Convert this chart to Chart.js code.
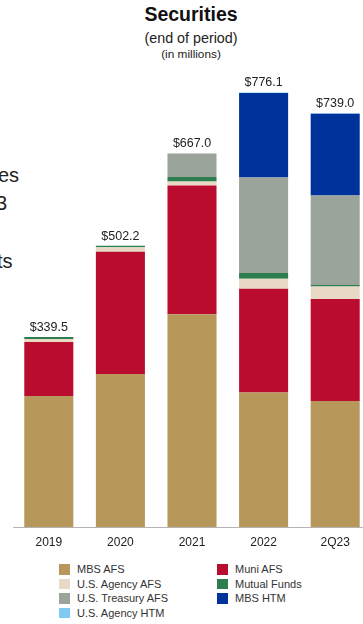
<!DOCTYPE html>
<html>
<head>
<meta charset="utf-8">
<script src="https://cdn.jsdelivr.net/npm/chart.js@4"></script>
<style>
  html, body { margin: 0; padding: 0; background: #fff; }
  body { width: 363px; height: 624px; overflow: hidden; position: relative;
         font-family: "Liberation Sans", Arial, sans-serif; color: #222; }
  .t { position: absolute; white-space: nowrap; }
  #title { left: 0; width: 382px; top: 3px; text-align: center; font-size: 19.5px; font-weight: bold; color: #111; }
  #sub1 { left: 0; width: 382px; top: 30px; text-align: center; font-size: 14.3px; }
  #sub2 { left: 0; width: 382px; top: 47px; text-align: center; font-size: 11.8px; }
  .frag { font-size: 20px; color: #222; }
  #chart { position: absolute; left: 0; top: 0; }
  .leg { position: absolute; font-size: 11px; color: #333; }
  .leg div { height: 14.6px; line-height: 14.6px; position: relative; padding-left: 18px; }
  .leg span { position: absolute; left: 0; top: 2px; width: 10.5px; height: 10.5px; }
</style>
</head>
<body>
<div class="t" id="title">Securities</div>
<div class="t" id="sub1">(end of period)</div>
<div class="t" id="sub2">(in millions)</div>

<!-- bits of the neighbouring text block -->
<div class="t frag" style="left:-2px; top:164px;">es</div>
<div class="t frag" style="left:-4px; top:192px;">3</div>
<div class="t frag" style="left:-3px; top:250px;">ts</div>

<canvas id="chart" width="371" height="560"></canvas>
<div class="leg" id="leg1" style="left:59px; top:562px;"></div>
<div class="leg" id="leg2" style="left:217px; top:562px;"></div>

<script>
const categories = ["2019", "2020", "2021", "2022", "2Q23"];

// balances in millions, bottom of the stack first
const mbsAfs      = [234.0, 273.3, 380.0, 240.0, 225.1];
const muniAfs     = [96.5, 218.0, 229.8, 185.3, 182.2];
const agencyAfs   = [5.4, 8.4, 7.1, 17.9, 22.0];
const mutualFunds = [3.6, 2.5, 7.9, 10.2, 3.0];
const treasuryAfs = [0, 0, 42.2, 170.8, 159.5];
const mbsHtm      = [0, 0, 0, 150.9, 146.2];
const agencyHtm   = [0, 0, 0, 1.0, 1.0];

const series = [
  { label: "MBS AFS", data: mbsAfs, color: "#b8975a" },
  { label: "Muni AFS", data: muniAfs, color: "#ba0c2f" },
  { label: "U.S. Agency AFS", data: agencyAfs, color: "#e8d9c4" },
  { label: "Mutual Funds", data: mutualFunds, color: "#2e7d4f" },
  { label: "U.S. Treasury AFS", data: treasuryAfs, color: "#9aa49b" },
  { label: "MBS HTM", data: mbsHtm, color: "#00329b" },
  { label: "U.S. Agency HTM", data: agencyHtm, color: "#7fc9f5" }
];

// legend columns as laid out on the slide
const legendCols = [
  ["MBS AFS", "U.S. Agency AFS", "U.S. Treasury AFS", "U.S. Agency HTM"],
  ["Muni AFS", "Mutual Funds", "MBS HTM"]
];

// total label above each stack
const totalLabels = {
  id: "totalLabels",
  afterDatasetsDraw(chart) {
    const ctx = chart.ctx;
    const x = chart.scales.x;
    const y = chart.scales.y;
    ctx.save();
    ctx.font = "12.5px 'Liberation Sans', Arial, sans-serif";
    ctx.fillStyle = "#222";
    ctx.textAlign = "center";
    ctx.textBaseline = "alphabetic";
    categories.forEach((c, i) => {
      let sum = 0;
      series.forEach((s) => (sum += s.data[i]));
      ctx.fillText("$" + sum.toFixed(1), x.getPixelForValue(i), y.getPixelForValue(sum) - 6);
    });
    ctx.restore();
  }
};

new Chart(document.getElementById("chart"), {
  type: "bar",
  data: {
    labels: categories,
    datasets: series.map((s) => ({
      label: s.label,
      data: s.data,
      backgroundColor: s.color,
      borderWidth: 0,
      barPercentage: 0.685,
      categoryPercentage: 1
    }))
  },
  options: {
    responsive: false,
    animation: false,
    devicePixelRatio: 1,
    layout: { padding: { top: 79, left: 13, right: 0, bottom: 0 } },
    plugins: { legend: { display: false }, tooltip: { enabled: false } },
    scales: {
      x: {
        stacked: true,
        grid: { display: false, drawTicks: false },
        border: { display: true, color: "#b4b4b4", width: 1 },
        ticks: { color: "#222", font: { size: 12, family: "'Liberation Sans', Arial, sans-serif" }, padding: 8 },
        afterFit(scale) { scale.height = 33; }
      },
      y: { stacked: true, display: false, min: 0, max: 800 }
    }
  },
  plugins: [totalLabels]
});

// html legend
legendCols.forEach((col, k) => {
  const box = document.getElementById("leg" + (k + 1));
  col.forEach((name) => {
    const s = series.find((d) => d.label === name);
    const row = document.createElement("div");
    row.innerHTML = '<span style="background:' + s.color + '"></span>' + name;
    box.appendChild(row);
  });
});
</script>
</body>
</html>
